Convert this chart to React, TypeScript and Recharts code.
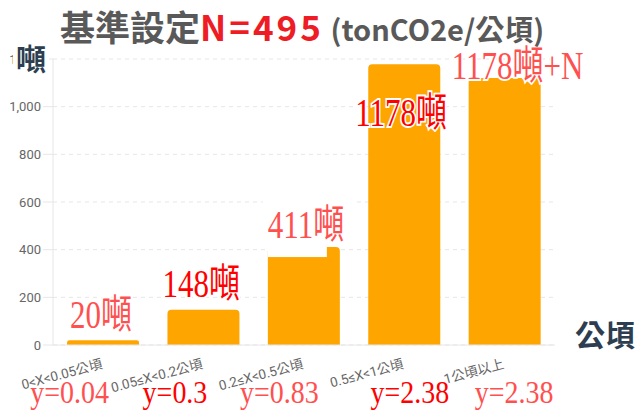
import React from "react";
import { BarChart, Bar, XAxis, YAxis, CartesianGrid, LabelList } from "recharts";

const categories = [
  "0<X<0.05公頃",
  "0.05≤X<0.2公頃",
  "0.2≤X<0.5公頃",
  "0.5≤X<1公頃",
  "1公頃以上",
];
const tons = [20, 148, 411, 1178, 1120];
const barLabels = ["20噸", "148噸", "411噸", "1178噸", "1178噸+N"];
const yLabels = ["y=0.04", "y=0.3", "y=0.83", "y=2.38", "y=2.38"];
const yTicks = [0, 200, 400, 600, 800, 1000, 1200];

const data = categories.map((cat, i) => ({ cat, tons: tons[i], label: barLabels[i] }));

const RED = "#ff0000";
const PINK = "#ff5050";
const SERIF = "'Liberation Serif', 'Noto Sans CJK TC', serif";
const SANS = "Roboto, 'Noto Sans CJK TC', sans-serif";

// where each bar annotation sits, relative to the bar's top-left corner
const barLabelPos = [
  { dx: 3, dy: -12, color: PINK },
  { dx: -5, dy: -13, color: RED },
  { dx: 0, dy: -9, color: PINK, box: true },
  { dx: -13, dy: 62, color: RED },
  { dx: -17, dy: 1, color: PINK },
];

// bottom "y=" annotations, relative to the category centre
const yLabelPos = [
  { dx: -73, color: PINK },
  { dx: -61, color: RED },
  { dx: -64, color: PINK },
  { dx: -34, color: RED },
  { dx: -30, color: PINK },
];

function BarLabel(props: any) {
  const x = Number(props.x);
  const y = Number(props.y);
  const i = props.index ?? barLabels.indexOf(props.value);
  const p = barLabelPos[i];
  if (!p) return null;
  return (
    <g>
      {p.box && (
        <>
          <rect x={x - 5} y={y - 47} width={94} height={46} fill="#fff" />
          <rect x={x} y={y - 2} width={59} height={12} fill="#fff" />
        </>
      )}
      <text
        transform={`translate(${x + p.dx},${y + p.dy}) scale(1,1.28)`}
        fontFamily={SERIF}
        fontSize={31}
        fill={p.color}
        stroke="#fff"
        strokeWidth={3}
        paintOrder="stroke"
      >
        {props.value}
      </text>
    </g>
  );
}

function CatTick(props: any) {
  const { x, y, payload } = props;
  const i = payload.index ?? categories.indexOf(payload.value);
  const p = yLabelPos[i];
  const ty = y + 15;
  return (
    <g>
      <text
        x={x}
        y={ty}
        transform={`rotate(-15, ${x}, ${ty})`}
        textAnchor="end"
        fontSize={13.5}
        fill="#666"
        fontFamily={SANS}
      >
        {payload.value}
      </text>
      <text
        transform={`translate(${x + p.dx},${y + 50}) scale(1,1.1)`}
        fontFamily={SERIF}
        fontSize={28}
        fill={p.color}
        stroke="#fff"
        strokeWidth={3}
        paintOrder="stroke"
      >
        {yLabels[i]}
      </text>
    </g>
  );
}

export default function App() {
  return (
    <div style={{ position: "absolute", left: 0, top: 0, width: 639, height: 410, background: "#fff" }}>
      <BarChart
        width={639}
        height={410}
        data={data}
        margin={{ top: 59, right: 84, bottom: 0, left: 0 }}
        barCategoryGap="14%"
      >
        <CartesianGrid vertical={false} strokeDasharray="4 4" stroke="#e6e6e6" />
        <XAxis
          dataKey="cat"
          height={65}
          axisLine={{ stroke: "#e6e6e6" }}
          tickLine={false}
          interval={0}
          tick={<CatTick />}
        />
        <YAxis
          width={53}
          domain={[0, 1200]}
          ticks={yTicks}
          tickSize={10}
          tickMargin={2}
          axisLine={{ stroke: "#e6e6e6" }}
          tickLine={{ stroke: "#e6e6e6" }}
          tick={{ fontSize: 13, fill: "#666", fontFamily: SANS }}
          tickFormatter={(v: number) => v.toLocaleString("en-US")}
        />
        <Bar dataKey="tons" fill="#ffa500" radius={[4, 4, 0, 0]} isAnimationActive={false}>
          <LabelList dataKey="label" content={<BarLabel />} />
        </Bar>
      </BarChart>
      <div
        style={{
          position: "absolute",
          left: 60,
          top: 8,
          whiteSpace: "nowrap",
          fontFamily: "'Noto Sans CJK TC', sans-serif",
          fontWeight: 700,
          lineHeight: "36px",
          color: "#595959",
        }}
      >
        <span style={{ fontSize: 35 }}>基準設定</span>
        <span style={{ fontSize: 35, color: "#ee1c25", letterSpacing: 3 }}>N=495</span>
        <span style={{ fontSize: 29 }}> (tonCO2e/公頃)</span>
      </div>
      <div
        style={{
          position: "absolute",
          left: 13,
          top: 42,
          width: 36,
          height: 36,
          background: "#fff",
          fontFamily: SERIF,
          fontWeight: 700,
          fontSize: 30,
          lineHeight: "36px",
          color: "#2c3e50",
          textAlign: "center",
        }}
      >
        噸
      </div>
      <div
        style={{
          position: "absolute",
          left: 575,
          top: 318,
          fontFamily: SERIF,
          fontWeight: 700,
          fontSize: 30,
          lineHeight: "36px",
          color: "#2c3e50",
          whiteSpace: "nowrap",
        }}
      >
        公頃
      </div>
    </div>
  );
}
